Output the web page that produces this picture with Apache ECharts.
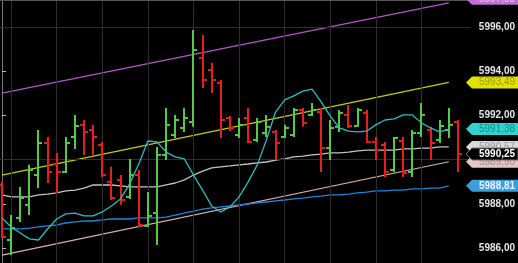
<!DOCTYPE html>
<html><head><meta charset="utf-8">
<script src="https://cdn.jsdelivr.net/npm/echarts@6/dist/echarts.min.js"></script>
<style>html,body{margin:0;padding:0;background:#000;}#c{width:518px;height:263px;}</style>
</head><body><div id="c"></div>
<script>
const open  = [5988.85,5986.36,5987.36,5987.95,5989.30,5990.75,5989.80,5989.44,5991.02,5991.57,5991.34,5990.66,5988.99,5989.08,5988.31,5989.30,5987.00,5987.58,5990.21,5991.11,5991.43,5991.70,5994.60,5994.05,5993.47,5991.88,5991.11,5991.88,5990.89,5991.20,5991.25,5991.02,5991.11,5992.24,5992.02,5992.15,5990.52,5991.48,5992.02,5991.52,5992.11,5990.80,5990.66,5989.53,5990.84,5989.44,5991.20,5991.34,5990.89,5991.34,5991.70];
const high  = [5988.99,5987.49,5988.76,5989.76,5991.34,5991.02,5990.30,5991.02,5992.02,5991.79,5991.57,5990.80,5989.67,5989.30,5990.03,5989.53,5988.53,5990.57,5992.33,5992.02,5992.33,5995.86,5995.64,5994.37,5993.60,5991.97,5991.88,5992.33,5991.88,5992.02,5991.34,5991.57,5992.33,5992.33,5992.56,5992.33,5991.79,5992.24,5992.47,5992.33,5992.24,5991.02,5990.80,5991.02,5991.02,5991.34,5992.56,5991.48,5991.79,5992.33,5991.79];
const low   = [5986.45,5985.68,5987.18,5987.49,5988.71,5988.94,5988.49,5989.39,5990.48,5990.21,5990.21,5989.21,5988.17,5987.95,5988.22,5986.95,5986.95,5986.14,5989.98,5990.98,5991.25,5991.48,5993.24,5993.01,5990.98,5991.29,5990.98,5990.75,5990.80,5991.02,5989.98,5990.98,5991.02,5991.48,5991.97,5989.44,5989.98,5991.25,5991.43,5991.48,5990.75,5989.98,5989.21,5989.44,5989.21,5989.21,5991.02,5989.98,5990.75,5990.98,5989.44];
const close = [5986.50,5986.90,5988.26,5989.53,5990.75,5989.44,5989.44,5990.75,5991.52,5991.25,5991.02,5989.30,5988.26,5988.17,5989.30,5987.04,5987.45,5990.21,5991.57,5991.79,5991.88,5994.96,5993.60,5993.60,5991.79,5991.43,5991.57,5990.80,5991.70,5991.48,5990.75,5991.43,5992.24,5991.66,5992.24,5990.52,5991.43,5992.11,5991.52,5992.24,5990.80,5990.43,5989.44,5990.98,5989.39,5991.20,5992.02,5990.75,5991.52,5991.57,5990.25];

const maWhite = [5988.40,5988.31,5988.31,5988.31,5988.40,5988.44,5988.49,5988.58,5988.62,5988.71,5988.85,5988.85,5988.85,5988.81,5988.76,5988.76,5988.76,5988.76,5988.85,5988.94,5989.08,5989.30,5989.48,5989.62,5989.67,5989.71,5989.76,5989.80,5989.85,5989.89,5989.98,5990.03,5990.12,5990.16,5990.21,5990.25,5990.30,5990.30,5990.34,5990.39,5990.43,5990.43,5990.43,5990.43,5990.48,5990.48,5990.52,5990.52,5990.57,5990.57];
const maCyan = [5987.36,5986.95,5986.68,5986.41,5986.36,5986.86,5987.31,5987.54,5987.58,5987.45,5987.45,5987.63,5987.90,5988.22,5988.90,5989.80,5990.84,5990.80,5990.34,5990.12,5990.03,5989.30,5988.62,5987.90,5987.63,5987.86,5988.31,5988.99,5989.76,5990.89,5992.15,5992.70,5992.88,5993.10,5993.19,5992.61,5991.97,5991.43,5991.29,5991.25,5991.29,5991.57,5991.79,5991.84,5992.02,5992.02,5991.66,5991.43,5991.25,5991.38];
const maBlue = [5986.86,5986.86,5986.86,5986.90,5986.95,5987.00,5987.04,5987.13,5987.18,5987.22,5987.22,5987.27,5987.31,5987.31,5987.31,5987.36,5987.36,5987.36,5987.40,5987.49,5987.58,5987.67,5987.76,5987.81,5987.86,5987.90,5987.95,5987.99,5988.04,5988.08,5988.13,5988.17,5988.22,5988.26,5988.31,5988.35,5988.40,5988.40,5988.44,5988.49,5988.53,5988.58,5988.58,5988.62,5988.62,5988.67,5988.67,5988.71,5988.71,5988.81];

// channel lines: [startIndex, startValue], [endIndex, endValue]
const chanTop = [[0, 5993.01], [49, 5997.09]];
const chanMid = [[0, 5989.30], [49, 5993.49]];
const chanLow = [[0, 5985.68], [49, 5989.90]];

const yTicks = [5986, 5988, 5992, 5994, 5996];
const gridY = [5990, 5996];
const gridX = [1, 6, 11, 16, 21, 26, 31, 36, 41, 46];
const lastPrice = 5990.25;

const fmt = v => v.toFixed(2).replace('.', ',');
const idx = open.map((_, i) => i);
const ohlc = idx.map(i => [i, open[i], high[i], low[i], close[i]]);
const lineData = arr => arr.map((v, i) => [i, v]);

const chart = echarts.init(document.getElementById('c'), null, {renderer: 'canvas'});
const option = {
  backgroundColor: '#000',
  animation: false,
  grid: {left: 0, right: 46, top: 0, bottom: 0},
  xAxis: {type: 'value', min: -0.22, max: 51.42, show: false, splitLine: {show: false}},
  yAxis: {
    type: 'value', position: 'right', min: 5985.32, max: 5997.22,
    axisLine: {show: true, lineStyle: {color: '#7a7a7a'}},
    axisTick: {show: true, length: 4, customValues: yTicks, lineStyle: {color: '#bbb'}},
    axisLabel: {customValues: yTicks, formatter: v => fmt(v), color: '#e6e6e6', fontFamily: 'Liberation Sans', fontSize: 10, fontWeight: 'bold', margin: 8},
    splitLine: {show: false}
  },
  series: [
    {type: 'line', data: [], silent: true,
     markLine: {silent: true, symbol: ['none', 'none'], label: {show: false},
       lineStyle: {color: '#2e2e2e', width: 1, type: 'solid'},
       data: gridY.map(v => ({yAxis: v})).concat(gridX.map(v => ({xAxis: v})))}},
    {type: 'line', data: chanTop, symbol: 'none', lineStyle: {color: '#b458c4', width: 1.2}},
    {type: 'line', data: chanMid, symbol: 'none', lineStyle: {color: '#cccc00', width: 1.2}},
    {type: 'line', data: chanLow, symbol: 'none', lineStyle: {color: '#dcb0b0', width: 1.2}},
    {type: 'line', data: lineData(maWhite), symbol: 'none', lineStyle: {color: '#c4c4c4', width: 1.3}},
    {type: 'line', data: lineData(maBlue), symbol: 'none', lineStyle: {color: '#1f86d6', width: 1.3}},
    {type: 'custom', data: ohlc, z: 5,
     renderItem: (params, api) => {
       const x = api.value(0);
       const o = api.coord([x, api.value(1)]);
       const h = api.coord([x, api.value(2)]);
       const l = api.coord([x, api.value(3)]);
       const c = api.coord([x, api.value(4)]);
       const col = api.value(4) >= api.value(1) ? '#52cc46' : '#e61e1e';
       const cx = Math.round(o[0]);
       return {type: 'group', children: [
         {type: 'rect', shape: {x: cx - 1, y: h[1], width: 2, height: Math.max(1, l[1] - h[1])}, style: {fill: col}},
         {type: 'rect', shape: {x: cx - 4, y: o[1] - 1, width: 3, height: 2}, style: {fill: col}},
         {type: 'rect', shape: {x: cx + 1, y: c[1] - 1, width: 3, height: 2}, style: {fill: col}}
       ]};
     }},
    {type: 'line', data: lineData(maCyan), symbol: 'none', z: 6, lineStyle: {color: '#2fbcbc', width: 1.3}}
  ]
};
chart.setOption(option);

const tags = [
  {v: chanTop[1][1], bg: '#c070d0', fg: '#e8c8f0', bold: false, dy: -4},
  {v: chanMid[1][1], bg: '#e2e200', fg: '#9a9a00', bold: false},
  {v: maCyan[maCyan.length - 1], bg: '#30d2d2', fg: '#1a8a8a', bold: false},
  {v: maWhite[maWhite.length - 1], bg: '#dadada', fg: '#9a9a9a', bold: false},
  {v: chanLow[1][1], bg: '#e6c6c6', fg: '#a08888', bold: false},
  {v: maBlue[maBlue.length - 1], bg: '#3c9edc', fg: '#e8f4ff', bold: true},
  {v: lastPrice, bg: '#000000', fg: '#ffffff', bold: true, stroke: '#777'}
];
const gfx = [{type: 'rect', shape: {x: 0, y: 0, width: 472, height: 1}, style: {fill: '#555'}, z: 100}];
tags.forEach((t, k) => {
  const y = chart.convertToPixel({yAxisIndex: 0}, t.v) + (t.dy || 0);
  gfx.push({type: 'polygon', z: 110 + k,
    shape: {points: [[466, y], [472, y - 6], [518, y - 6], [518, y + 6], [472, y + 6]]},
    style: {fill: t.bg, stroke: t.stroke || null, lineWidth: 1}});
  gfx.push({type: 'text', z: 110 + k, x: 479, y: y,
    style: {text: fmt(t.v), fill: t.fg, font: (t.bold ? 'bold ' : '') + '10px "Liberation Sans"', textVerticalAlign: 'middle', verticalAlign: 'middle'}});
});
chart.setOption({graphic: gfx});
</script>
</body></html>
